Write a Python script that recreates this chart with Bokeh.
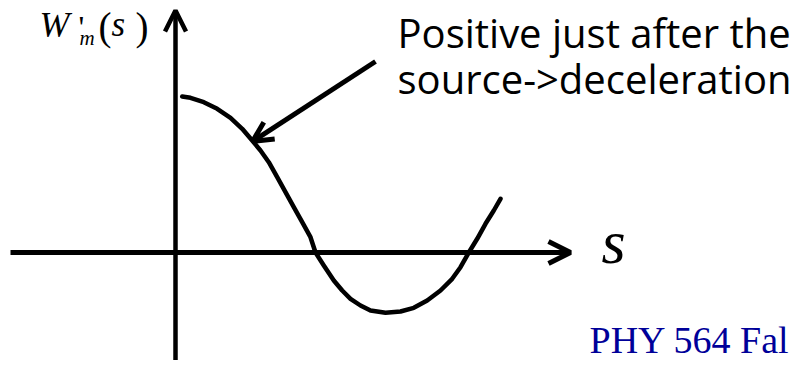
from bokeh.plotting import figure
from bokeh.models import Range1d, Arrow, OpenHead
from bokeh.core.properties import value
from bokeh.embed import file_html
from bokeh.resources import INLINE

# ---- data (sketch of W'_m(s)) ----
s_vals = [0.067, 0.15, 0.283, 0.417, 0.55, 0.667, 0.767, 0.85, 0.933, 1.017,
          1.10, 1.183, 1.267, 1.35, 1.40, 1.483, 1.583, 1.667, 1.75, 1.85,
          1.95, 2.10, 2.25, 2.383, 2.517, 2.65, 2.767, 2.85, 2.933, 3.017,
          3.10, 3.183, 3.25]
w_vals = [1.56, 1.547, 1.503, 1.437, 1.347, 1.237, 1.12, 1.02, 0.903, 0.753,
          0.603, 0.453, 0.303, 0.153, 0.0, -0.13, -0.28, -0.38, -0.463, -0.53,
          -0.58, -0.603, -0.59, -0.553, -0.48, -0.38, -0.263, -0.147, 0.0, 0.137,
          0.287, 0.42, 0.537]

# axes (arrows) in data units
h_axis = dict(x0=-1.65, y0=0.0, x1=3.95, y1=0.0)
v_axis = dict(x0=0.0, y0=-1.40, x1=0.0, y1=2.42)
pointer = dict(x0=2.00, y0=1.91, x1=0.77, y1=1.11)

annotation_lines = ["Positive just after the", "source->deceleration"]
axis_label = "s"
footer = "PHY 564 Fal"

p = figure(width=796, height=360, output_backend="svg", toolbar_location=None,
           x_axis_location=None, y_axis_location=None, min_border=0,
           x_range=Range1d(-1.75, 6.21), y_range=Range1d(-1.08, 2.52))
p.grid.visible = False
p.outline_line_color = None
p.background_fill_color = "white"
p.border_fill_color = "white"

# curve
p.line(s_vals, w_vals, line_width=4.5, line_color="black",
       line_join="round", line_cap="round")

# axes
p.add_layout(Arrow(end=OpenHead(size=22, line_width=5, line_color="black"),
                   x_start=h_axis["x0"], y_start=h_axis["y0"],
                   x_end=h_axis["x1"], y_end=h_axis["y1"],
                   line_width=5, line_color="black"))
p.add_layout(Arrow(end=OpenHead(size=21, line_width=4.5, line_color="black"),
                   x_start=v_axis["x0"], y_start=v_axis["y0"],
                   x_end=v_axis["x1"], y_end=v_axis["y1"],
                   line_width=4.5, line_color="black"))
p.add_layout(Arrow(end=OpenHead(size=20, line_width=5, line_color="black"),
                   x_start=pointer["x0"], y_start=pointer["y0"],
                   x_end=pointer["x1"], y_end=pointer["y1"],
                   line_width=5, line_color="black"))


def txt(x, y, t, font, size, style="normal", color="black"):
    p.text(x=[x], y=[y], text=[t], text_font=value(font), text_font_size=size,
           text_font_style=style, text_color=color, text_baseline="alphabetic",
           text_align="left")


# annotation text
txt(2.22, 2.20, annotation_lines[0], "Open Sans", "40px")
txt(2.22, 1.74, annotation_lines[1], "Open Sans", "40px")

# axis label s
serif = "Liberation Serif"
txt(4.26, 0.11, axis_label, serif, "62px", "italic")

# W'_m(s)
txt(-1.36, 2.28, "W", serif, "36px", "italic")
txt(-0.97, 2.26, "'", serif, "32px")
txt(-0.96, 2.15, "m", serif, "21px", "italic")
txt(-0.77, 2.26, "(", serif, "39px")
txt(-0.64, 2.28, "s", serif, "35px", "italic")
txt(-0.40, 2.26, ")", serif, "39px")

# footer
txt(4.14, -0.87, footer, serif, "38px", color="#000099")

open("out.html", "w").write(file_html(p, INLINE))
